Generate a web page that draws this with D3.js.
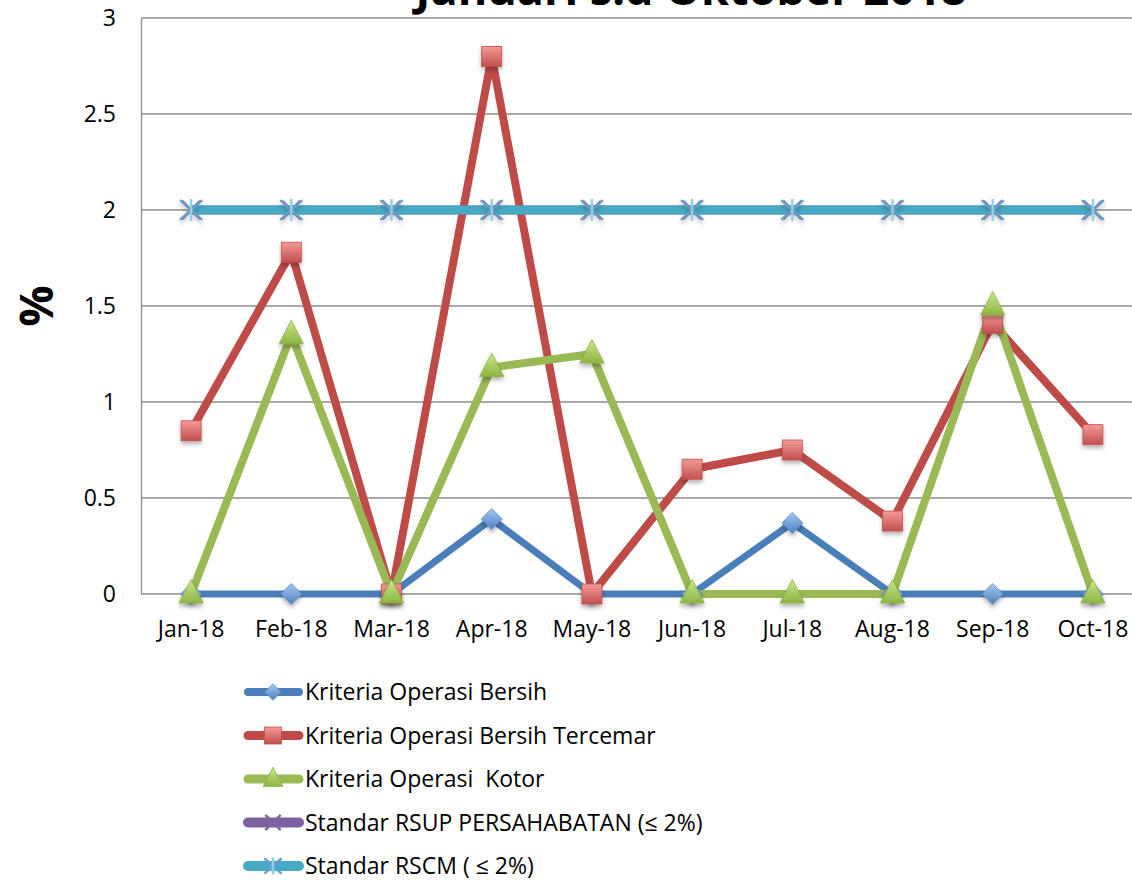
<!DOCTYPE html>
<html>
<head>
<meta charset="utf-8">
<script src="https://cdn.jsdelivr.net/npm/d3@7"></script>
<style>
  body { margin: 0; background: #fff; }
  text { font-family: "Open Sans", "Noto Sans", sans-serif; white-space: pre; }
</style>
</head>
<body>
<div id="chart"></div>
<script>
// data
var months = ["Jan-18", "Feb-18", "Mar-18", "Apr-18", "May-18", "Jun-18", "Jul-18", "Aug-18", "Sep-18", "Oct-18"];
var bersih = [0, 0, 0, 0.39, 0, 0, 0.37, 0, 0, 0];
var bersihTercemar = [0.85, 1.78, 0, 2.8, 0, 0.65, 0.75, 0.38, 1.41, 0.83];
var kotor = [0, 1.35, 0, 1.18, 1.25, 0, 0, 0, 1.5, 0];
var standarRsup = [2, 2, 2, 2, 2, 2, 2, 2, 2, 2];
var standarRscm = [2, 2, 2, 2, 2, 2, 2, 2, 2, 2];
var yTicks = [0, 0.5, 1, 1.5, 2, 2.5, 3];
var seriesNames = ["Kriteria Operasi Bersih", "Kriteria Operasi Bersih Tercemar", "Kriteria Operasi  Kotor",
    "Standar RSUP PERSAHABATAN (\u2264 2%)", "Standar RSCM ( \u2264 2%)"];
var titleText = "Januari s.d Oktober 2018";

var width = 1132;
var height = 880;

var marginTop = 18;
var marginLeft = 141;
var plotBottom = 594;
var plotRight = 1143;

var series = [
    { name: seriesNames[0], values: bersih, color: "#4A7EBB", marker: "diamond", lw: 7, fill: ["#A5C8F2", "#4F81BD"] },
    { name: seriesNames[1], values: bersihTercemar, color: "#BE4B48", marker: "square", lw: 8, fill: ["#F49A98", "#C0504D"] },
    { name: seriesNames[2], values: kotor, color: "#98B954", marker: "triangle", lw: 8, fill: ["#C9EA8A", "#8DB344"] },
    { name: seriesNames[3], values: standarRsup, color: "#7D60A0", marker: "x", lw: 9 },
    { name: seriesNames[4], values: standarRscm, color: "#46AAC5", marker: "star", lw: 9 }
];

const svg = d3.select("#chart").append("svg")
    .attr("width", width)
    .attr("height", height);

const defs = svg.append("defs");
series.forEach(function(s, i) {
    if (!s.fill) return;
    var g = defs.append("linearGradient").attr("id", "grad" + i)
        .attr("x1", 0).attr("y1", 0).attr("x2", 0).attr("y2", 1);
    g.append("stop").attr("offset", "0%").attr("stop-color", s.fill[0]);
    g.append("stop").attr("offset", "100%").attr("stop-color", s.fill[1]);
});
var shadow = defs.append("filter").attr("id", "shadow")
    .attr("x", "-50%").attr("y", "-50%").attr("width", "200%").attr("height", "200%");
shadow.append("feDropShadow").attr("dx", 0).attr("dy", 3).attr("stdDeviation", 2)
    .attr("flood-color", "#000").attr("flood-opacity", 0.3);

// scales
var x = d3.scaleBand()
    .domain(months)
    .range([marginLeft, plotRight]);

var y = d3.scaleLinear()
    .domain([0, 3])
    .range([plotBottom, marginTop]);

function cx(d) { return x(d) + x.bandwidth() / 2; }

// gridlines
svg.append("g")
    .selectAll("line")
    .data(yTicks)
    .join("line")
    .attr("x1", marginLeft).attr("x2", plotRight)
    .attr("y1", d => y(d)).attr("y2", d => y(d))
    .attr("stroke", "#8c8c8c")
    .attr("stroke-width", 1.3);

// y axis
const gy = svg.append("g")
    .attr("transform", `translate(${marginLeft},0)`)
    .call(d3.axisLeft(y).tickValues(yTicks).tickSize(0).tickPadding(25).tickFormat(d3.format("")));
gy.select(".domain").attr("stroke", "#8c8c8c").attr("stroke-width", 1.3);
gy.selectAll("text").attr("font-size", 23).attr("fill", "#000")
    .style("font-family", "'Open Sans', sans-serif");

// x axis
const gx = svg.append("g")
    .attr("transform", `translate(0,${plotBottom})`)
    .call(d3.axisBottom(x).tickSize(0).tickPadding(27));
gx.select(".domain").remove();
gx.selectAll("text").attr("font-size", 23).attr("fill", "#000")
    .style("font-family", "'Open Sans', sans-serif");

// y axis title
svg.append("text")
    .attr("transform", "translate(53,306) rotate(-90)")
    .attr("text-anchor", "middle")
    .attr("font-size", 46)
    .attr("font-weight", "bold")
    .text("%");

// chart title (mostly cut off at top)
svg.append("text")
    .attr("x", 691)
    .attr("y", 5)
    .attr("text-anchor", "middle")
    .attr("font-size", 45)
    .attr("font-weight", "bold")
    .text(titleText);

// lines
var line = d3.line()
    .x((d, i) => cx(months[i]))
    .y(d => y(d));

svg.append("g")
    .selectAll("path")
    .data(series)
    .join("path")
    .attr("d", s => line(s.values))
    .attr("fill", "none")
    .attr("stroke", s => s.color)
    .attr("stroke-width", s => s.lw)
    .attr("stroke-linejoin", "round");

// marker drawing
function drawMarker(g, s, i, size) {
    if (s.marker === "diamond") {
        var dd = size * 0.55;
        g.append("path").attr("d", `M0,${-dd}L${dd},0L0,${dd}L${-dd},0Z`)
            .attr("fill", "url(#grad" + i + ")").attr("stroke", "#5B8BC9").attr("stroke-width", 0.8)
            .attr("filter", "url(#shadow)");
    } else if (s.marker === "square") {
        var h = size * 0.5;
        g.append("rect").attr("x", -h).attr("y", -h).attr("width", size).attr("height", size)
            .attr("fill", "url(#grad" + i + ")").attr("stroke", "#C0504D").attr("stroke-width", 0.8)
            .attr("filter", "url(#shadow)");
    } else if (s.marker === "triangle") {
        var t = size * 0.55;
        g.append("path").attr("d", `M0,${-t * 1.2}L${t},${t * 0.75}L${-t},${t * 0.75}Z`)
            .attr("fill", "url(#grad" + i + ")").attr("stroke", "#8DB344").attr("stroke-width", 0.8)
            .attr("filter", "url(#shadow)");
    } else if (s.marker === "x") {
        var r = size * 0.45;
        g.append("path").attr("d", `M${-r},${-r}L${r},${r}M${-r},${r}L${r},${-r}`)
            .attr("stroke", "#8064A2").attr("stroke-width", 2.5);
    } else if (s.marker === "star") {
        var r2 = size * 0.5;
        g.append("path").attr("d", `M${-r2},${-r2 * 0.9}L${r2},${r2 * 0.9}M${-r2},${r2 * 0.9}L${r2},${-r2 * 0.9}`)
            .attr("stroke", "#6A9CC8").attr("stroke-width", 2.5).attr("filter", "url(#shadow)");
        g.append("path").attr("d", `M0,${-r2}L0,${r2}`)
            .attr("stroke", "#8ED3E3").attr("stroke-width", 2.5);
    }
}

series.forEach(function(s, i) {
    var sizes = [19, 20, 22, 20, 22];
    svg.append("g")
        .selectAll("g")
        .data(s.values)
        .join("g")
        .attr("transform", (d, j) => `translate(${cx(months[j])},${y(d)})`)
        .each(function() { drawMarker(d3.select(this), s, i, sizes[i]); });
});

// legend
var legendY = d3.scalePoint()
    .domain(seriesNames)
    .range([692, 866]);

const legend = svg.append("g");
series.forEach(function(s, i) {
    var ly = legendY(s.name);
    var row = legend.append("g");
    row.append("line")
        .attr("x1", 248).attr("x2", 299)
        .attr("y1", ly).attr("y2", ly)
        .attr("stroke", s.color)
        .attr("stroke-width", s.lw + 1)
        .attr("stroke-linecap", "round");
    var mg = row.append("g").attr("transform", `translate(273,${ly})`);
    drawMarker(mg, s, i, [15, 17, 18, 17, 17][i]);
    mg.selectAll("*").attr("filter", null);
    row.append("text")
        .attr("x", 305)
        .attr("y", ly)
        .attr("dy", "0.35em")
        .attr("font-size", 23)
        .attr("fill", "#000")
        .text(s.name);
});
</script>
</body>
</html>
